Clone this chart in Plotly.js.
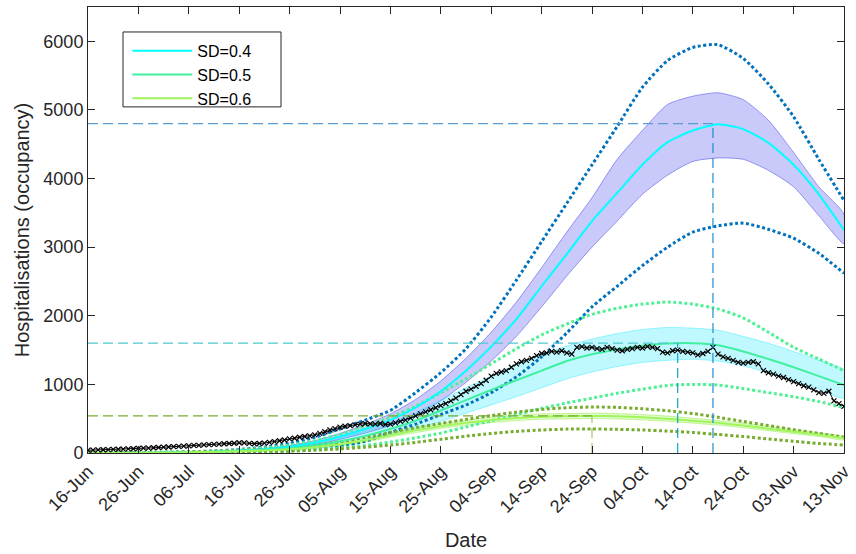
<!DOCTYPE html>
<html>
<head>
<meta charset="utf-8">
<script src="https://cdn.plot.ly/plotly-3.0.1.min.js"></script>
<style>html,body{margin:0;padding:0;background:#fff;}#chart{width:856px;height:554px;}</style>
</head>
<body>
<div id="chart"></div>
<script>
// ---- tick labels (x axis: days since 16-Jun) ----
const tickDays = [0,10,20,30,40,50,60,70,80,90,100,110,120,130,140,150];
const tickLabels = ["16-Jun","26-Jun","06-Jul","16-Jul","26-Jul","05-Aug","15-Aug","25-Aug","04-Sep","14-Sep","24-Sep","04-Oct","14-Oct","24-Oct","03-Nov","13-Nov"];
const yTicks = [0,1000,2000,3000,4000,5000,6000];

// ---- model output days (every 5 days) ----
const modelDays = [0,5,10,15,20,25,30,35,40,45,50,55,60,65,70,75,80,85,90,95,100,105,110,115,120,125,130,135,140,145,150];

// SD=0.4
const sd04Median = [0,2,4,7,12,20,35,55,90,150,240,350,480,660,900,1200,1550,1950,2430,2900,3380,3790,4200,4530,4700,4790,4720,4520,4200,3770,3250];
const sd04Upper  = [0,3,5,9,15,25,42,68,110,180,285,415,570,780,1050,1380,1760,2200,2700,3220,3720,4280,4700,5080,5200,5250,5150,4850,4380,3880,3480];
const sd04Lower  = [0,1,3,5,9,15,28,44,72,120,200,290,400,550,760,1030,1340,1700,2130,2580,3000,3380,3770,4050,4250,4300,4280,4120,3880,3460,3050];
const sd04OuterHi = [0,3,6,10,18,30,50,85,140,230,350,480,620,880,1170,1520,1980,2520,3080,3640,4200,4760,5330,5720,5910,5950,5750,5380,4900,4280,3680];
const sd04OuterLo = [0,1,2,3,5,8,12,20,35,60,100,170,300,420,560,700,880,1110,1400,1750,2130,2430,2730,3000,3220,3310,3350,3260,3130,2910,2620];

// SD=0.5
const sd05Median = [0,1,3,6,10,17,28,45,70,110,170,250,350,470,620,770,920,1060,1200,1340,1440,1510,1565,1595,1600,1570,1480,1370,1250,1120,990];
const sd05Upper  = [0,2,4,8,14,23,38,60,95,145,220,320,440,590,770,950,1120,1290,1430,1560,1660,1740,1800,1830,1820,1790,1700,1600,1480,1350,1210];
const sd05Lower  = [0,1,2,4,7,12,20,32,50,80,125,185,260,350,460,580,700,820,950,1080,1180,1260,1320,1350,1365,1340,1270,1170,1050,930,800];
const sd05OuterHi = [0,2,5,9,16,27,45,72,115,180,270,390,520,680,880,1080,1300,1520,1720,1880,2020,2110,2170,2200,2170,2100,1970,1760,1540,1370,1200];
const sd05OuterLo = [0,1,2,3,5,8,13,20,32,50,75,110,160,220,290,380,470,560,650,730,800,870,930,985,1000,990,940,880,820,750,660];

// SD=0.6
const sd06Median = [0,1,3,6,10,16,25,38,55,85,125,185,260,330,390,440,480,510,530,535,540,535,520,500,470,440,400,355,310,265,215];
const sd06Upper  = [0,2,4,8,13,20,31,46,67,100,148,215,290,365,425,478,520,550,570,575,580,575,560,538,507,475,433,387,340,292,240];
const sd06Lower  = [0,0,2,4,7,12,19,30,44,70,104,156,232,297,357,405,442,472,492,497,502,497,482,463,435,407,369,325,282,240,192];
const sd06OuterHi = [0,2,5,9,15,25,38,55,80,115,165,230,300,370,430,490,545,595,635,660,670,665,645,615,575,520,460,400,340,285,230];
const sd06OuterLo = [0,1,2,3,5,8,12,18,27,40,60,85,115,155,200,245,285,315,335,348,350,345,335,320,300,270,240,205,170,140,115];

// ---- observed hospital occupancy (daily, 16-Jun .. 13-Nov) ----
const obsValues = [40,42,45,48,50,52,55,57,60,62,68,70,72,76,80,85,88,92,96,100,105,110,112,118,122,125,130,135,138,142,
150,148,140,135,138,145,155,165,178,190,205,215,230,240,250,265,285,310,335,355,
375,390,400,410,420,430,425,420,430,415,420,440,460,480,510,540,570,600,630,660,
690,720,760,800,850,900,930,970,1010,1060,1120,1160,1180,1200,1250,1300,1330,1350,1380,1420,
1450,1460,1480,1470,1490,1460,1440,1540,1550,1530,1540,1520,1510,1540,1520,1500,1490,1510,1520,1540,
1530,1550,1540,1520,1470,1460,1490,1500,1480,1470,1460,1430,1450,1480,1540,1440,1400,1380,1350,1320,
1310,1320,1330,1300,1200,1170,1150,1120,1100,1070,1040,1010,980,960,920,880,870,900,760,720,680];
const obsDays = obsValues.map((v,i)=>i);

// ---- peak markers ----
const peakDay = [124, 117, 100];
const peakVal = [4800, 1600, 540];
const peakHColors = ["rgb(90,155,210)","rgb(80,200,210)","rgb(120,172,48)"];
const peakVColors = ["rgb(30,140,210)","rgb(20,165,190)","rgb(160,200,110)"];

const traces = [];
function band(lo, hi, fill, edge){
  traces.push({x: modelDays.concat(modelDays.slice().reverse()), y: hi.concat(lo.slice().reverse()),
    type:'scatter', mode:'lines', fill:'toself', fillcolor: fill,
    line:{color: edge, width:1, shape:'spline', smoothing:0.6}, showlegend:false, hoverinfo:'skip'});
}
function line(y, color, width, dash, name){
  traces.push({x: modelDays, y: y, type:'scatter', mode:'lines', name: name||'',
    line:{color: color, width: width, dash: dash||'solid', shape:'spline', smoothing:0.6},
    showlegend: !!name});
}

band(sd04Lower, sd04Upper, 'rgba(100,100,240,0.35)', 'rgba(110,110,235,0.7)');
band(sd05Lower, sd05Upper, 'rgba(0,230,255,0.25)', 'rgba(0,225,250,0.35)');
band(sd06Lower, sd06Upper, 'rgba(160,240,96,0.3)', 'rgba(160,240,96,0.6)');

line(sd04OuterHi, '#0072BD', 3, '3px,2.5px');
line(sd04OuterLo, '#0072BD', 3, '3px,2.5px');
line(sd05OuterHi, 'rgb(80,240,150)', 3, '3px,2.5px');
line(sd05OuterLo, 'rgb(80,240,150)', 3, '3px,2.5px');
line(sd06OuterHi, '#77AC30', 3, '3px,2.5px');
line(sd06OuterLo, '#77AC30', 3, '3px,2.5px');

line(sd04Median, '#00FFFF', 2, 'solid', 'SD=0.4');
line(sd05Median, 'rgb(64,240,160)', 2, 'solid', 'SD=0.5');
line(sd06Median, 'rgb(160,245,90)', 2, 'solid', 'SD=0.6');

traces.push({x: obsDays, y: obsValues, type:'scatter', mode:'lines+markers', showlegend:false,
  line:{color:'#000', width:1}, marker:{symbol:'x-thin', size:5, line:{color:'#000', width:1.2}}});

for (let i=0;i<peakDay.length;i++){
  traces.push({x:[0, peakDay[i]], y:[peakVal[i], peakVal[i]], type:'scatter', mode:'lines', showlegend:false,
    line:{color: peakHColors[i], width:1.2, dash:'10px,5px'}});
  traces.push({x:[peakDay[i], peakDay[i]], y:[0, peakVal[i]], type:'scatter', mode:'lines', showlegend:false,
    line:{color: peakVColors[i], width:1.2, dash:'10px,5px'}});
}

const axisCommon = {showline:true, linecolor:'#262626', linewidth:1, mirror:'ticks', ticks:'inside',
  ticklen:7, tickcolor:'#262626', showgrid:false, zeroline:false,
  tickfont:{family:'Liberation Sans, Arial, sans-serif', size:18, color:'#262626'}};

const layout = {
  width:856, height:554,
  margin:{l:88, r:12, t:7, b:101},
  paper_bgcolor:'#fff', plot_bgcolor:'#fff',
  font:{family:'Liberation Sans, Arial, sans-serif', color:'#262626'},
  xaxis: Object.assign({}, axisCommon, {range:[0,150], tickvals: tickDays, ticktext: tickLabels, tickangle:-45,
    title:{text:'Date', font:{size:20, color:'#262626'}, standoff:17}}),
  yaxis: Object.assign({}, axisCommon, {range:[0,6500], tickvals: yTicks,
    title:{text:'Hospitalisations (occupancy)', font:{size:20, color:'#262626'}, standoff:8}}),
  legend:{x:0.052, y:0.94, xanchor:'left', yanchor:'top', bgcolor:'rgba(0,0,0,0)', borderwidth:0,
    font:{size:16, color:'#000'}, itemwidth:60, tracegroupgap:0},
  shapes:[{type:'rect', xref:'paper', yref:'paper', x0:0.0463, x1:0.2553, y0:0.776, y1:0.944,
    fillcolor:'#fff', line:{color:'#262626', width:1}, layer:'above'}],
  showlegend:true
};

Plotly.newPlot('chart', traces, layout, {displayModeBar:false, staticPlot:true});
</script>
</body>
</html>
